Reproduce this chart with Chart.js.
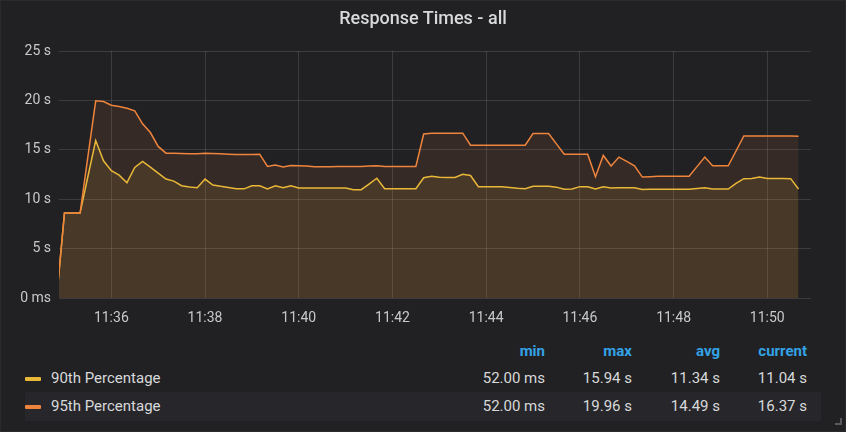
<!DOCTYPE html>
<html>
<head>
<meta charset="utf-8">
<title>Response Times - all</title>
<script src="https://cdn.jsdelivr.net/npm/chart.js@4.4.1/dist/chart.umd.min.js"></script>
<style>
  body { margin: 0; background: #212124; }
  #panel {
    position: relative; width: 846px; height: 432px; background: #212124;
    box-shadow: inset 0 0 0 1px #2a2a2d; font-family: Roboto, sans-serif; color: #d8d9da; overflow: hidden;
  }
  #title { position: absolute; top: 7px; left: 0; width: 100%; text-align: center; font-size: 18px; font-weight: 500; line-height: 22px; }
  #chart { position: absolute; left: 0; top: 0; }
  .row { position: absolute; left: 25px; width: 796px; height: 29px; font-size: 15px; line-height: 29px; }
  .row.alt { background: #27272b; }
  .cell { position: absolute; top: 0; text-align: right; white-space: nowrap; }
  .head { color: #33a2e5; font-weight: 700; }
  .swatch { position: absolute; left: 0; top: 13px; width: 16px; height: 4px; border-radius: 1px; }
  .name { position: absolute; left: 26px; top: 0; }
  #grip { position: absolute; right: 4px; bottom: 7px; width: 5px; height: 5px; border-right: 2px solid #5a5a5e; border-bottom: 2px solid #5a5a5e; }
</style>
</head>
<body>
<div id="panel">
  <canvas id="chart" width="846" height="330"></canvas>
  <div id="title">Response Times - all</div>
  <div id="legend"></div>
  <div id="grip"></div>
</div>
<script>
// samples every 10 s, first one at 11:34:50 (seconds since midnight)
var sampleStart = 11 * 3600 + 34 * 60 + 50;
var sampleStep = 10;

var p90 = [0.052, 8.6, 8.6, 8.6, 12.3, 15.94, 13.89, 12.88, 12.44, 11.67,
  13.21, 13.82, 13.25, 12.64, 12.04, 11.83, 11.36, 11.23, 11.16, 12.04,
  11.43, 11.3, 11.19, 11.06, 11.05, 11.36, 11.36, 11.03, 11.36, 11.16,
  11.36, 11.14, 11.13, 11.13, 11.13, 11.13, 11.13, 11.13, 10.96, 10.96,
  11.53, 12.12, 11.06, 11.06, 11.06, 11.06, 11.06, 12.17, 12.33, 12.22,
  12.2, 12.2, 12.52, 12.4, 11.27, 11.27, 11.27, 11.25, 11.18, 11.1,
  11.06, 11.3, 11.3, 11.3, 11.22, 11.0, 11.03, 11.27, 11.25, 11.03,
  11.25, 11.14, 11.16, 11.16, 11.16, 10.98, 11.0, 11.0, 11.0, 11.0,
  11.0, 11.0, 11.08, 11.16, 11.03, 11.03, 11.03, 11.6, 12.08, 12.1,
  12.25, 12.1, 12.1, 12.1, 12.08, 11.04];

var p95 = [0.052, 8.6, 8.6, 8.6, 14.3, 19.96, 19.88, 19.51, 19.38, 19.21,
  18.94, 17.63, 16.75, 15.34, 14.66, 14.66, 14.63, 14.6, 14.6, 14.66,
  14.63, 14.6, 14.56, 14.53, 14.53, 14.53, 14.56, 13.32, 13.45, 13.27,
  13.4, 13.38, 13.35, 13.28, 13.28, 13.28, 13.3, 13.3, 13.3, 13.31,
  13.36, 13.38, 13.3, 13.3, 13.3, 13.3, 13.31, 16.6, 16.68, 16.68,
  16.68, 16.68, 16.68, 15.47, 15.47, 15.47, 15.47, 15.47, 15.47, 15.47,
  15.47, 16.65, 16.65, 16.65, 15.6, 14.55, 14.55, 14.55, 14.55, 12.27,
  14.43, 13.36, 14.26, 13.82, 13.38, 12.24, 12.28, 12.32, 12.32, 12.32,
  12.32, 12.32, 13.3, 14.26, 13.38, 13.38, 13.38, 14.88, 16.4, 16.4,
  16.4, 16.4, 16.4, 16.4, 16.4, 16.37];

var seriesNames = ['90th Percentage', '95th Percentage'];
var seriesColors = ['#EAB839', '#EF843C'];
var statHeads = ['min', 'max', 'avg', 'current'];
var statsP90 = ['52.00 ms', '15.94 s', '11.34 s', '11.04 s'];
var statsP95 = ['52.00 ms', '19.96 s', '14.49 s', '16.37 s'];

var xTicks = ['11:36', '11:38', '11:40', '11:42', '11:44', '11:46', '11:48', '11:50'];
var yTicks = [0, 5, 10, 15, 20, 25];

var xMin = 11 * 3600 + 34 * 60 + 53;
var xMax = 11 * 3600 + 50 * 60 + 56;

function toSec(hm) {
  var p = hm.split(':');
  return +p[0] * 3600 + +p[1] * 60;
}
function pts(arr) {
  return arr.map(function (v, i) { return { x: sampleStart + i * sampleStep, y: v }; });
}
function hexA(hex, a) {
  var n = parseInt(hex.slice(1), 16);
  return 'rgba(' + (n >> 16) + ',' + ((n >> 8) & 255) + ',' + (n & 255) + ',' + a + ')';
}

var gridColor = 'rgba(255,255,255,0.12)';
var tickColor = '#c8c9ca';

var ctx = document.getElementById('chart').getContext('2d');
var myChart = new Chart(ctx, {
  type: 'line',
  data: {
    datasets: [{
      label: seriesNames[1],
      data: pts(p95),
      borderColor: seriesColors[1],
      backgroundColor: hexA(seriesColors[1], 0.1),
      fill: 'origin',
      borderWidth: 1.5,
      pointRadius: 0,
      tension: 0
    }, {
      label: seriesNames[0],
      data: pts(p90),
      borderColor: seriesColors[0],
      backgroundColor: hexA(seriesColors[0], 0.1),
      fill: 'origin',
      borderWidth: 1.5,
      pointRadius: 0,
      tension: 0
    }]
  },
  options: {
    responsive: false,
    animation: false,
    devicePixelRatio: 1,
    layout: { padding: { top: 51, right: 35, left: 0, bottom: 0 } },
    plugins: {
      legend: { display: false },
      tooltip: { enabled: false },
      filler: { drawTime: 'beforeDatasetsDraw' }
    },
    scales: {
      x: {
        type: 'linear',
        min: xMin,
        max: xMax,
        afterBuildTicks: function (scale) {
          scale.ticks = xTicks.map(function (t) { return { value: toSec(t) }; });
        },
        afterFit: function (scale) { scale.height = 32; },
        grid: { color: gridColor, drawTicks: false },
        border: { display: false },
        ticks: {
          color: tickColor,
          font: { family: 'Roboto', size: 14 },
          padding: 12,
          maxRotation: 0,
          callback: function (v) {
            var h = Math.floor(v / 3600), m = Math.floor((v % 3600) / 60);
            return h + ':' + (m < 10 ? '0' : '') + m;
          }
        }
      },
      y: {
        min: 0,
        max: 25,
        afterBuildTicks: function (scale) {
          scale.ticks = yTicks.map(function (t) { return { value: t }; });
        },
        afterFit: function (scale) { scale.width = 59; },
        grid: { color: gridColor, drawTicks: false },
        border: { display: false },
        ticks: {
          color: tickColor,
          font: { family: 'Roboto', size: 14 },
          padding: 8,
          callback: function (v) { return v === 0 ? '0 ms' : v + ' s'; }
        }
      }
    }
  }
});

// legend table
var colRight = [545, 632, 720, 807];
var legend = document.getElementById('legend');
function makeRow(top, cls) {
  var r = document.createElement('div');
  r.className = 'row' + (cls ? ' ' + cls : '');
  r.style.top = top + 'px';
  legend.appendChild(r);
  return r;
}
function addCells(row, texts, extra) {
  texts.forEach(function (t, i) {
    var c = document.createElement('div');
    c.className = 'cell' + (extra ? ' ' + extra : '');
    c.style.right = (25 + 796 - colRight[i]) + 'px';
    c.textContent = t;
    row.appendChild(c);
  });
}
var head = makeRow(337);
addCells(head, statHeads, 'head');
[[statsP90, 0, 364, ''], [statsP95, 1, 392, 'alt']].forEach(function (s) {
  var r = makeRow(s[2], s[3]);
  var sw = document.createElement('div');
  sw.className = 'swatch';
  sw.style.background = seriesColors[s[1]];
  r.appendChild(sw);
  var nm = document.createElement('div');
  nm.className = 'name';
  nm.textContent = seriesNames[s[1]];
  r.appendChild(nm);
  addCells(r, s[0]);
});
</script>
</body>
</html>
